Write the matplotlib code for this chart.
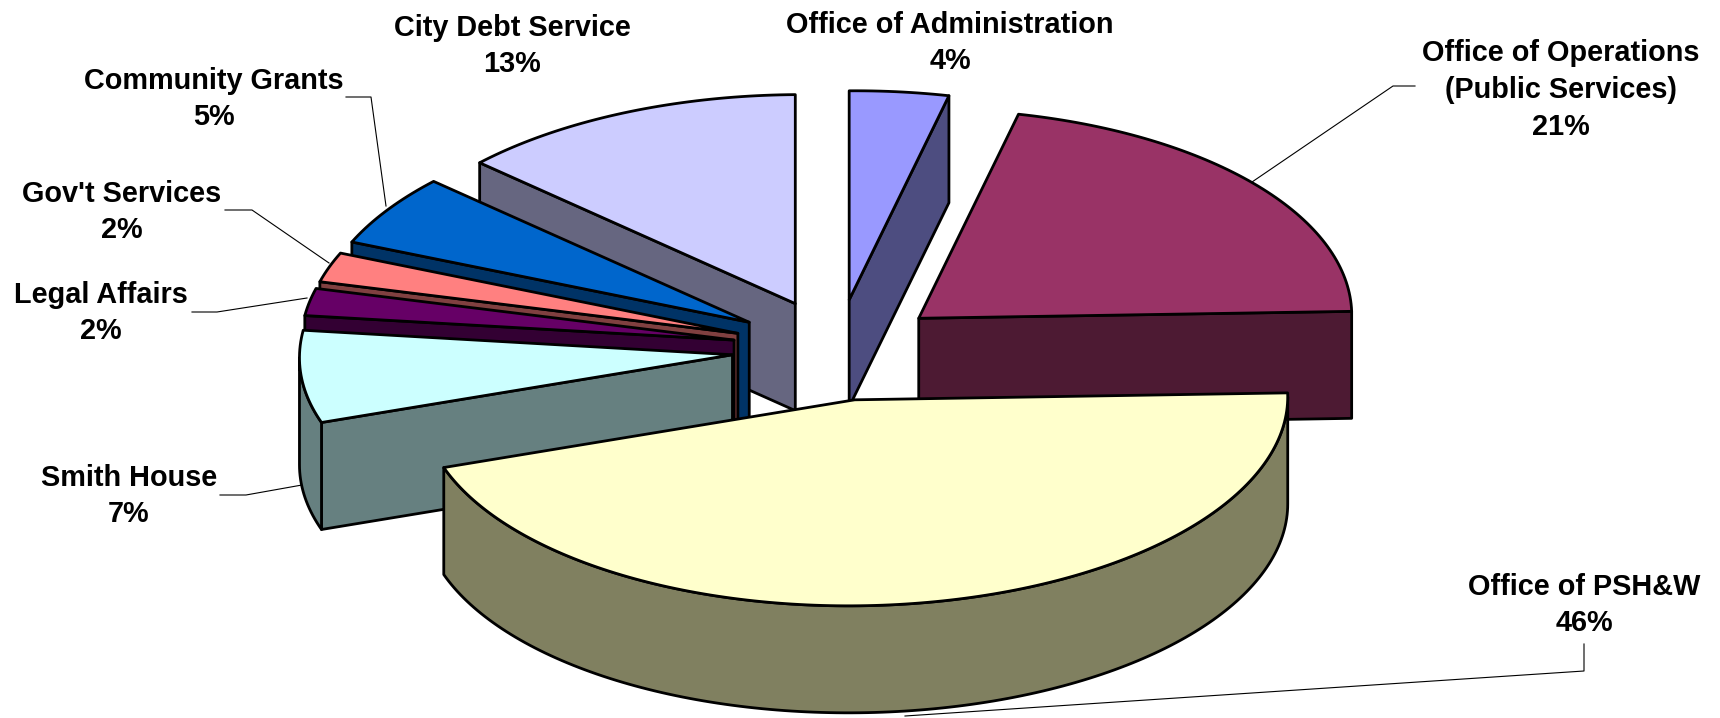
import numpy as np
from matplotlib import pyplot as plt
from matplotlib.patches import Polygon

names = ["Office of Administration", "Office of Operations\n(Public Services)", "Office of PSH&W",
         "Smith House", "Legal Affairs", "Gov't Services", "Community Grants", "City Debt Service"]
shares = [3.7, 21.0, 45.2, 7.2, 2.1, 2.3, 5.5, 13.0]
percents = [4, 21, 46, 7, 2, 2, 5, 13]
colors = ["#9999FF", "#993366", "#FFFFCC", "#CCFFFF", "#660066", "#FF8080", "#0066CC", "#CCCCFF"]
sides = ["#4D4D80", "#4D1A33", "#808060", "#668080", "#330033", "#804040", "#003366", "#666680"]

# label block centres, in pixels of the output
label_x = [950, 1561, 1584, 129, 101, 122, 214, 512]
label_y = [43, 90, 605, 496, 313, 212, 99, 46]

# leader lines: label name index -> polyline
leaders = {
    1: [(1252, 182), (1393, 86), (1415, 86)],
    2: [(905, 716), (1584, 671), (1584, 644)],
    3: [(302, 485), (246, 495), (220, 495)],
    4: [(307, 298), (217, 312), (192, 312)],
    5: [(329, 263), (252, 210), (225, 210)],
    6: [(386, 206), (371, 97), (346, 97)],
}

cx, cy = 837, 350
rx = 433
ry_front, ry_back = 206, 209
explode = 105
depth = 107
tilt = 206 / 428
shear = 3
# back to front
draw_order = [0, 1, 7, 6, 5, 4, 3, 2]


def rim(c, t1, t2, dy=0):
    t = np.radians(np.linspace(t1, t2, max(int(abs(t2 - t1)), 2) + 1))
    ry = np.where(np.cos(t) > 0, ry_back, ry_front)
    return np.column_stack([c[0] + rx * np.sin(t), c[1] - ry * np.cos(t) - shear * np.sin(t) + dy])


fig = plt.figure(figsize=(17.2, 7.18), dpi=100)
ax = fig.add_axes([0, 0, 1, 1])
ax.set_xlim(0, 1720)
ax.set_ylim(718, 0)
ax.axis("off")

edges = np.cumsum([0] + shares) / sum(shares) * 360
line = dict(edgecolor="black", linewidth=2, joinstyle="round")

for z, i in enumerate(draw_order):
    t1, t2 = edges[i], edges[i + 1]
    mid = np.radians((t1 + t2) / 2)
    c = (cx + explode * np.sin(mid), cy - explode * tilt * np.cos(mid))

    # radial walls, only the ones facing the viewer
    for t, show in ((t1, np.sin(np.radians(t1)) < -1e-6), (t2, np.sin(np.radians(t2)) > 1e-6)):
        if show:
            p = rim(c, t, t)[0]
            ax.add_patch(Polygon([c, p, (p[0], p[1] + depth), (c[0], c[1] + depth)],
                                 facecolor=sides[i], zorder=z * 3 + 1, **line))
    # outer wall, front half only
    w1, w2 = max(t1, 90), min(t2, 270)
    if w2 > w1:
        ax.add_patch(Polygon(np.vstack([rim(c, w1, w2), rim(c, w2, w1, depth)]),
                             facecolor=sides[i], zorder=z * 3 + 2, **line))
    # top
    ax.add_patch(Polygon(np.vstack([[c], rim(c, t1, t2)]),
                         facecolor=colors[i], zorder=z * 3 + 3, **line))

for pts in leaders.values():
    pts = np.array(pts)
    ax.plot(pts[:, 0], pts[:, 1], color="black", linewidth=0.8, zorder=0)

for i in range(len(names)):
    ax.text(label_x[i], label_y[i], f"{names[i]}\n{percents[i]}%", ha="center", va="center",
            family="Liberation Sans", fontweight="bold", fontsize=20.8, linespacing=1.4, color="black")

fig.savefig("out.png", dpi=100)
